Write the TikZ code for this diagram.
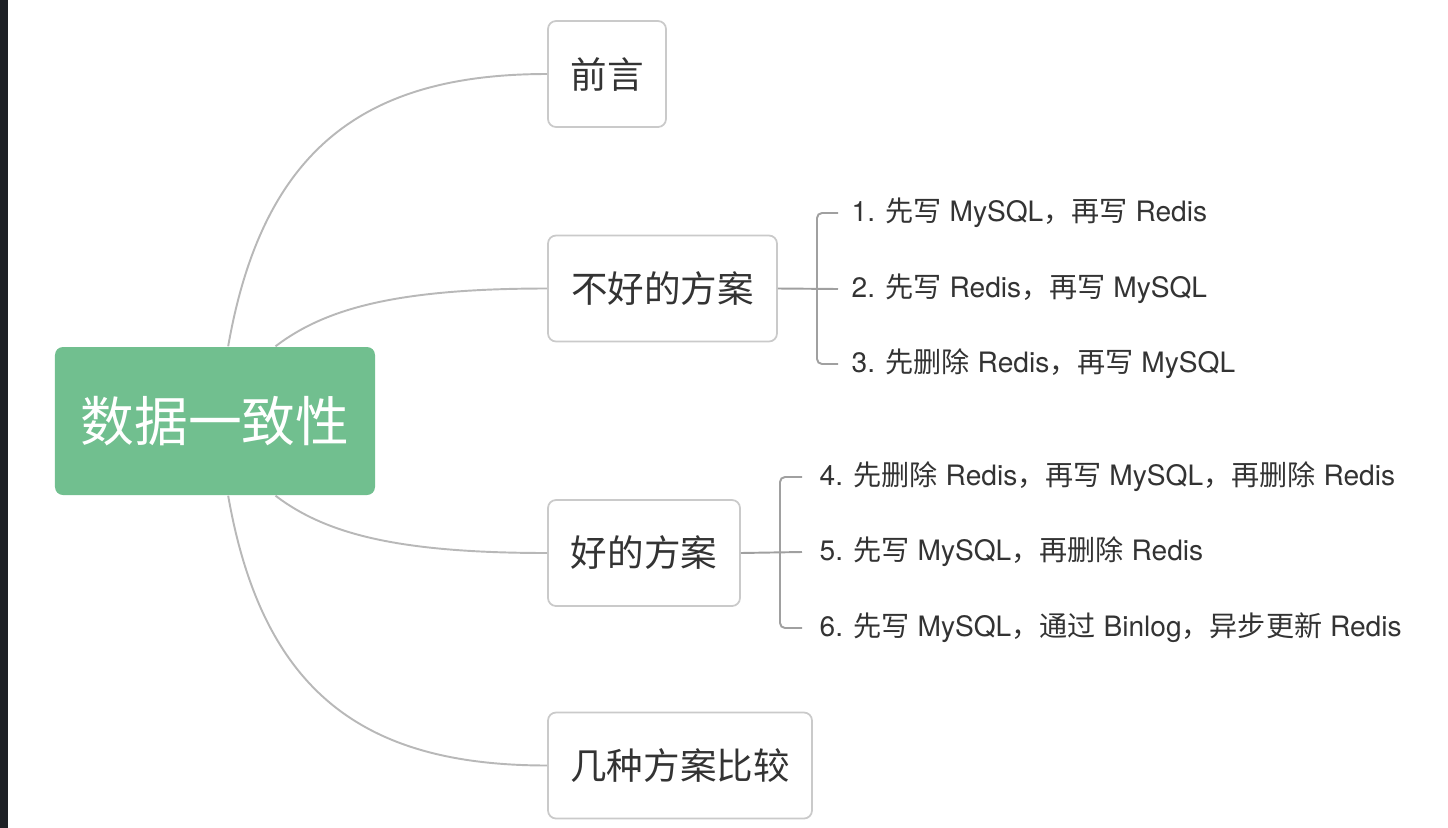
\documentclass[tikz,border=0pt]{standalone}
\usepackage{fontspec}
\setmainfont{TeX Gyre Heros}
\newfontfamily\zhfont{Noto Sans CJK SC}
\newcommand{\zh}[1]{{\zhfont #1}}
\usepackage{xcolor}
\definecolor{rootgreen}{HTML}{71BF8F}
\definecolor{linegray}{HTML}{B8B8B8}
\definecolor{boxgray}{HTML}{CACACA}
\definecolor{forkgray}{HTML}{A0A0A0}
\definecolor{textgray}{HTML}{333333}
\definecolor{sidebar}{HTML}{1E2126}

\tikzset{
  rootbox/.style={fill=rootgreen, rounded corners=0.08cm, minimum width=3.2cm,
    minimum height=1.48cm, text=white, font=\zhfont\fontsize{15.3}{18}\selectfont},
  topicbox/.style={draw=boxgray, line width=0.5pt, fill=white, rounded corners=0.08cm,
    minimum height=1.06cm, text=textgray, font=\zhfont\fontsize{10.4}{12}\selectfont},
  leaf/.style={anchor=west, inner sep=0pt, text=textgray, font=\fontsize{8}{10}\selectfont},
  curve/.style={draw=linegray, line width=0.55pt},
  fork/.style={draw=forkgray, line width=0.55pt, rounded corners=0.05cm}
}

\begin{document}
\begin{tikzpicture}
\useasboundingbox (0,0) rectangle (14.48,-8.28);
\fill[sidebar] (0,0) rectangle (0.08,-8.28);
% central topic
\node[rootbox] (root) at (2.15,-4.21) {数据一致性};
% main branches
\node[topicbox, minimum width=1.18cm] (intro) at (6.07,-0.74) {前言};
\node[topicbox, minimum width=2.29cm] (bad) at (6.625,-2.885) {不好的方案};
\node[topicbox, minimum width=1.92cm] (good) at (6.44,-5.53) {好的方案};
\node[topicbox, minimum width=2.64cm] (cmp) at (6.80,-7.655) {几种方案比较};
\draw[curve] (root.80) .. controls +(0.35,2.0) and +(-1.8,0) .. (intro.west);
\draw[curve] (root.51) .. controls +(0.5,0.38) and +(-1.5,0) .. (bad.west);
\draw[curve] (root.-51) .. controls +(0.5,-0.38) and +(-1.5,0) .. (good.west);
\draw[curve] (root.-80) .. controls +(0.35,-2.0) and +(-1.8,0) .. (cmp.west);
% bad solutions
\node[leaf] (bad1) at (8.51,-2.13) {1. \zh{先写} MySQL\zh{，再写} Redis};
\node[leaf] (bad2) at (8.51,-2.89) {2. \zh{先写} Redis\zh{，再写} MySQL};
\node[leaf] (bad3) at (8.51,-3.64) {3. \zh{先删除} Redis\zh{，再写} MySQL};
\coordinate (badfork) at (8.17,-2.88);
\draw[fork] ([xshift=-1.3mm]bad1.west) -| (badfork) |- ([xshift=-1.3mm]bad3.west);
\draw[fork] (bad.east) -- ([xshift=-1.3mm]bad2.west);
% good solutions
\node[leaf] (good1) at (8.19,-4.77) {4. \zh{先删除} Redis\zh{，再写} MySQL\zh{，再删除} Redis};
\node[leaf] (good2) at (8.19,-5.52) {5. \zh{先写} MySQL\zh{，再删除} Redis};
\node[leaf] (good3) at (8.19,-6.28) {6. \zh{先写} MySQL\zh{，通过} Binlog\zh{，异步更新} Redis};
\coordinate (goodfork) at (7.80,-5.52);
\draw[fork] ([xshift=-1.7mm]good1.west) -| (goodfork) |- ([xshift=-1.7mm]good3.west);
\draw[fork] (good.east) -- ([xshift=-1.7mm]good2.west);
\end{tikzpicture}
\end{document}
